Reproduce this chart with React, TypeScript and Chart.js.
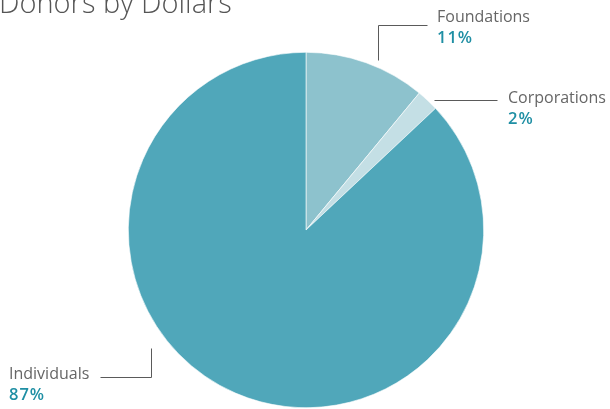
import React, { useEffect, useRef } from "react";
import { Chart, registerables } from "chart.js";

Chart.register(...registerables);

const categories = ["Foundations", "Corporations", "Individuals"];
const shares = [11, 2, 87];
const percentLabels = ["11%", "2%", "87%"];
const sliceColors = ["#8dc2cd", "#c4dfe5", "#50a7ba"];
const titleText = "Donors by Dollars";

// leader layouts, offsets relative to pie centre (cx, cy)
const leaders = [
  { pts: [[71.5, -170], [71.5, -205], [121, -205]], tx: 131, ty: -208 },
  { pts: [[128, -130.5], [191, -130.5]], tx: 202, ty: -127 },
  { pts: [[-155.5, 118], [-155.5, 147], [-206, 147]], tx: -297, ty: 149 },
];

const labelPlugin = {
  id: "leaderLabels",
  afterDraw(chart: any) {
    const ctx = chart.ctx;
    const arc = chart.getDatasetMeta(0).data[0];
    if (!arc) return;
    const cx = arc.x;
    const cy = arc.y;
    ctx.save();
    ctx.fillStyle = "#555555";
    ctx.font = "300 29px 'Open Sans'";
    ctx.textBaseline = "alphabetic";
    ctx.textAlign = "left";
    ctx.fillText(titleText, -1, 13);
    leaders.forEach((l, i) => {
      ctx.strokeStyle = "#5a5a5a";
      ctx.lineWidth = 1;
      ctx.beginPath();
      l.pts.forEach((p, j) => {
        const x = Math.round(cx + p[0]) + 0.5;
        const y = Math.round(cy + p[1]) + 0.5;
        if (j === 0) ctx.moveTo(x, y);
        else ctx.lineTo(x, y);
      });
      ctx.stroke();
      ctx.fillStyle = "#666666";
      ctx.font = "16px 'Open Sans'";
      ctx.fillText(categories[i], cx + l.tx, cy + l.ty);
      ctx.fillStyle = "#1f8fa4";
      ctx.font = "600 16.5px 'Open Sans'";
      (ctx as any).letterSpacing = "1px";
      ctx.fillText(percentLabels[i], cx + l.tx, cy + l.ty + 21);
      (ctx as any).letterSpacing = "0px";
    });
    ctx.restore();
  },
};

export default function App() {
  const ref = useRef<HTMLCanvasElement>(null);
  useEffect(() => {
    document.body.style.margin = "0";
    if (!ref.current) return;
    const chart = new Chart(ref.current, {
      type: "pie",
      data: {
        labels: categories,
        datasets: [
          {
            data: shares,
            backgroundColor: sliceColors,
            borderColor: "#ffffff",
            borderWidth: 0.6,
          },
        ],
      },
      options: {
        animation: false,
        responsive: false,
        layout: { padding: { top: 52, bottom: 1, left: 2, right: 0 } },
        plugins: {
          legend: { display: false },
          tooltip: { enabled: false },
          title: { display: false },
        },
      },
      plugins: [labelPlugin],
    });
    return () => chart.destroy();
  }, []);
  return (
    <div style={{ width: 610, height: 409 }}>
      <canvas ref={ref} width={610} height={409} style={{ display: "block" }} />
    </div>
  );
}
